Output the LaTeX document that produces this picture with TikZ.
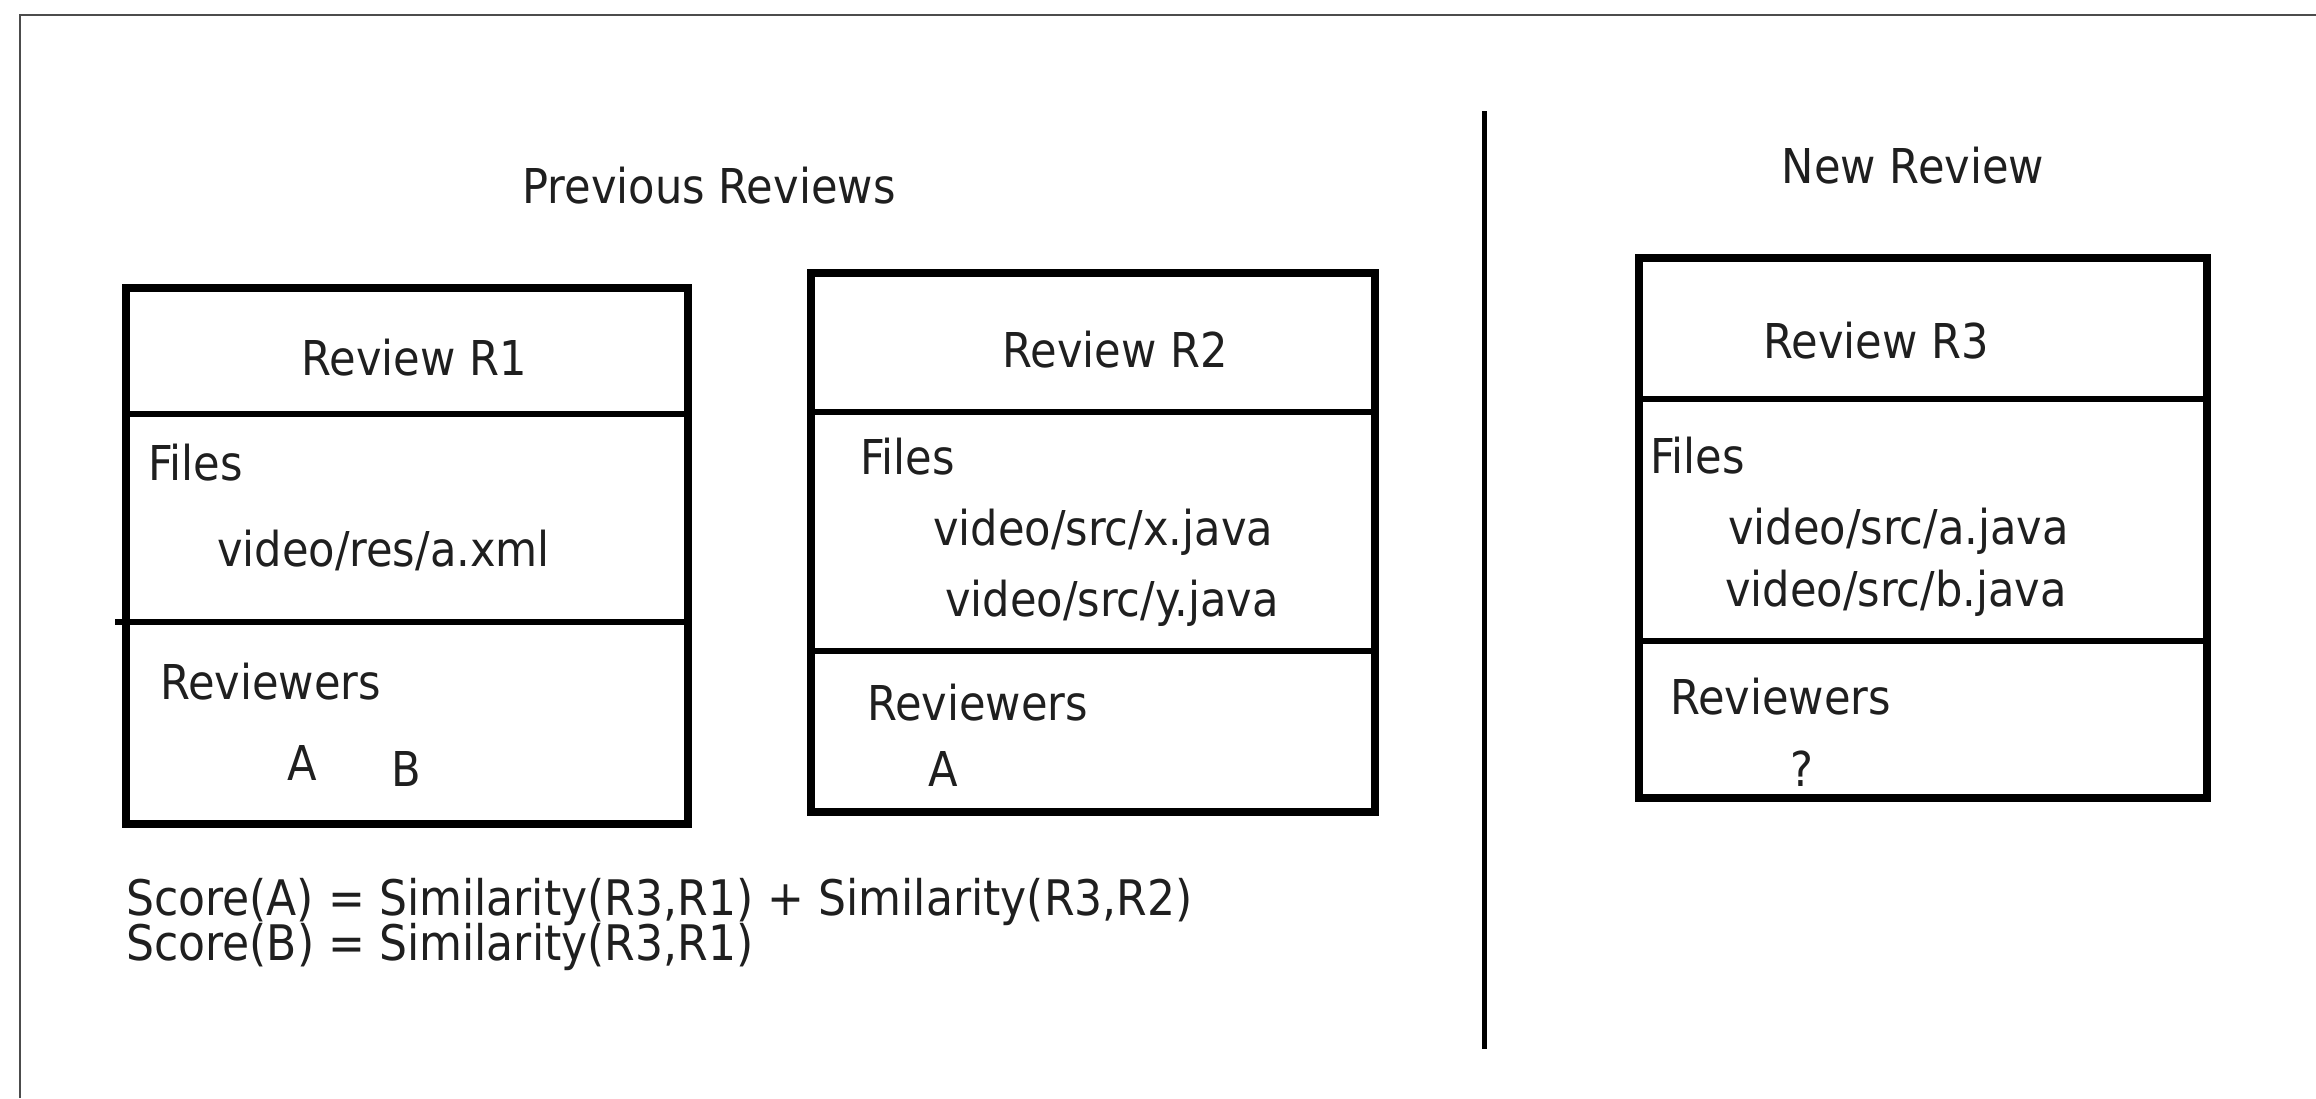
\documentclass[tikz,border=0pt]{standalone}
\usepackage{fontspec}
\setmainfont{DejaVu Sans}[FakeStretch=0.9]
\begin{document}
\begin{tikzpicture}[x=1pt,y=-1pt,
  txt/.style={inner sep=0pt,outer sep=0pt,text=black!88,font=\fontsize{48}{54}\selectfont},
  lbl/.style={txt,anchor=base west},
  ttl/.style={txt,anchor=base},
  scoretxt/.style={lbl,font=\fontsize{49}{55}\selectfont},
  boxline/.style={line width=8pt,draw=black},
  divline/.style={line width=6pt,draw=black},
  frameline/.style={line width=2.5pt,draw=black!70}]
\useasboundingbox (0,0) rectangle (2316,1098);
\fill[white] (0,0) rectangle (2316,1098);

% outer frame (only top and left edges inside the page)
\coordinate (ftl) at (20,15);
\coordinate (ftr) at (2316,15);
\coordinate (fbl) at (20,1098);
\draw[frameline] (fbl) -- (ftl) -- (ftr);

% separator between previous and new reviews
\coordinate (sept) at (1484,111);
\coordinate (sepb) at (1484,1049);
\draw[line width=5pt] (sept) -- (sepb);

% section titles
\node[ttl] (tprev) at (709,203) {Previous Reviews};
\node[ttl] (tnew) at (1913,183) {New Review};

% ---- Review R1 ----
\draw[boxline] (126,288) rectangle (688,824);
\draw[divline] (126,414) -- (688,414);
\draw[divline] (115,622) -- (688,622);
\node[ttl] (r1t) at (414,375) {Review R1};
\node[lbl] (r1f) at (148,480) {Files};
\node[lbl] (r1f1) at (217,566) {video/res/a.xml};
\node[lbl] (r1r) at (160,699) {Reviewers};
\node[lbl] (r1a) at (287,780) {A};
\node[lbl] (r1b) at (391,786) {B};

% ---- Review R2 ----
\draw[boxline] (811,273) rectangle (1375,812);
\draw[divline] (811,412) -- (1375,412);
\draw[divline] (811,651) -- (1375,651);
\node[ttl] (r2t) at (1115,367) {Review R2};
\node[lbl] (r2f) at (860,474) {Files};
\node[lbl] (r2f1) at (933,545) {video/src/x.java};
\node[lbl] (r2f2) at (945,616) {video/src/y.java};
\node[lbl] (r2r) at (867,720) {Reviewers};
\node[lbl] (r2a) at (928,786) {A};

% ---- Review R3 ----
\draw[boxline] (1639,258) rectangle (2207,798);
\draw[divline] (1639,399) -- (2207,399);
\draw[divline] (1639,641) -- (2207,641);
\node[ttl] (r3t) at (1876,358) {Review R3};
\node[lbl] (r3f) at (1650,473) {Files};
\node[lbl] (r3f1) at (1728,544) {video/src/a.java};
\node[lbl] (r3f2) at (1725,606) {video/src/b.java};
\node[lbl] (r3r) at (1670,714) {Reviewers};
\node[lbl] (r3q) at (1790,786) {?};

% scores
\node[scoretxt] (sa) at (126,915) {Score(A) = Similarity(R3,R1) + Similarity(R3,R2)};
\node[scoretxt] (sb) at (126,960) {Score(B) = Similarity(R3,R1)};
\end{tikzpicture}
\end{document}
